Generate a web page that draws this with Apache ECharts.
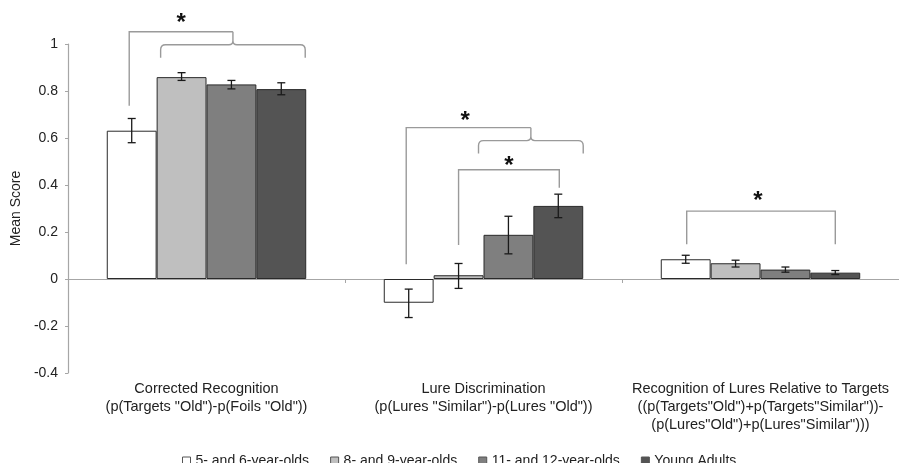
<!DOCTYPE html>
<html>
<head>
<meta charset="utf-8">
<script src="https://cdn.jsdelivr.net/npm/echarts@6/dist/echarts.min.js"></script>
<style>
html,body{margin:0;padding:0;background:#fff;}
#main{width:899px;height:463px;}
</style>
</head>
<body>
<div id="main"></div>
<script>
// ---- data ----
const categories = [
  'Corrected Recognition\n(p(Targets "Old")-p(Foils "Old"))',
  'Lure Discrimination\n(p(Lures "Similar")-p(Lures "Old"))',
  'Recognition of Lures Relative to Targets\n((p(Targets"Old")+p(Targets"Similar"))-\n(p(Lures"Old")+p(Lures"Similar")))'
];
const groupNames = ['5- and 6-year-olds', '8- and 9-year-olds', '11- and 12-year-olds', 'Young Adults'];
const yTicks = [-0.4, -0.2, 0, 0.2, 0.4, 0.6, 0.8, 1];

const age5to6   = [0.631, -0.101, 0.084];
const age8to9   = [0.859,  0.016, 0.067];
const age11to12 = [0.828,  0.188, 0.040];
const adults    = [0.808,  0.311, 0.027];

const age5to6Low    = [0.580, -0.164, 0.067];
const age5to6High   = [0.683, -0.043, 0.101];
const age8to9Low    = [0.845, -0.040, 0.051];
const age8to9High   = [0.878,  0.066, 0.080];
const age11to12Low  = [0.809,  0.107, 0.029];
const age11to12High = [0.845,  0.267, 0.051];
const adultsLow     = [0.784,  0.261, 0.019];
const adultsHigh    = [0.835,  0.361, 0.036];

// significance annotations (category, bar-slot offsets, y in data units)
const sigBrackets = [
  {cat: 0, from: -1.55, to: 0.53, top: 1.052, leftEnd: 0.737, rightEnd: 1.052},
  {cat: 1, from: -1.55, to: 0.95, top: 0.644, leftEnd: 0.063, rightEnd: 0.644},
  {cat: 1, from: -0.5,  to: 1.52, top: 0.465, leftEnd: 0.145, rightEnd: 0.388},
  {cat: 2, from: -1.48, to: 1.5,  top: 0.289, leftEnd: 0.148, rightEnd: 0.148}
];
const sigBraces = [
  {cat: 0, from: -0.92, to: 1.98, line: 0.997, ends: 0.942, peak: 1.052},
  {cat: 1, from: -0.1,  to: 2.0,  line: 0.589, ends: 0.534, peak: 0.644}
];
const sigStars = [
  {cat: 0, at: -0.51, y: 1.112},
  {cat: 1, at: -0.37, y: 0.695},
  {cat: 1, at: 0.51,  y: 0.506},
  {cat: 2, at: -0.05, y: 0.357}
];

// ---- chart ----
const values = [age5to6, age8to9, age11to12, adults];
const lows = [age5to6Low, age8to9Low, age11to12Low, adultsLow];
const highs = [age5to6High, age8to9High, age11to12High, adultsHigh];
const colors = ['#ffffff', '#bfbfbf', '#7f7f7f', '#545454'];
const GAP = 0.28;
const FONT = '"Liberation Sans", Arial, sans-serif';

const chart = echarts.init(document.getElementById('main'), null, {renderer: 'canvas'});

function slotX(api, cat, u) {
  const band = api.size([1, 0])[0];
  const bw = band * (1 - GAP) / 4;
  return api.coord([cat, 0])[0] + u * bw;
}

const barSeries = groupNames.map((name, i) => ({
  name: name,
  type: 'bar',
  xAxisIndex: 0,
  data: values[i],
  barGap: '0%',
  barCategoryGap: (GAP * 100) + '%',
  itemStyle: {color: colors[i], borderColor: '#2a2a2a', borderWidth: 1},
  emphasis: {disabled: true},
  z: 2
}));

const errData = [];
groupNames.forEach((n, s) => {
  categories.forEach((c, ci) => {
    errData.push([ci, lows[s][ci], highs[s][ci], s]);
  });
});

const errSeries = {
  type: 'custom',
  xAxisIndex: 0,
  data: errData,
  encode: {x: 0, y: [1, 2]},
  z: 5,
  silent: true,
  renderItem: function (params, api) {
    const c = api.value(0), s = api.value(3);
    const x = slotX(api, c, s - 1.5);
    const yl = api.coord([c, api.value(1)])[1];
    const yh = api.coord([c, api.value(2)])[1];
    const cap = 4;
    const st = {stroke: '#1a1a1a', lineWidth: 1.3};
    return {type: 'group', children: [
      {type: 'line', shape: {x1: x, y1: yl, x2: x, y2: yh}, style: st},
      {type: 'line', shape: {x1: x - cap, y1: yl, x2: x + cap, y2: yl}, style: st},
      {type: 'line', shape: {x1: x - cap, y1: yh, x2: x + cap, y2: yh}, style: st}
    ]};
  }
};

const annData = sigBrackets.map((b, i) => [b.cat, b.top, 'b', i])
  .concat(sigBraces.map((b, i) => [b.cat, b.line, 'r', i]))
  .concat(sigStars.map((b, i) => [b.cat, b.y, 's', i]));

const annSeries = {
  type: 'custom',
  xAxisIndex: 0,
  data: annData,
  encode: {x: 0, y: 1},
  clip: false,
  silent: true,
  z: 6,
  renderItem: function (params, api) {
    const item = annData[params.dataIndex];
    const kind = item[2], idx = item[3];
    const stroke = {stroke: '#9a9a9a', lineWidth: 1.4, fill: null};
    if (kind === 'b') {
      const b = sigBrackets[idx];
      const x1 = slotX(api, b.cat, b.from), x2 = slotX(api, b.cat, b.to);
      const yt = api.coord([b.cat, b.top])[1];
      const y1 = api.coord([b.cat, b.leftEnd])[1];
      const y2 = api.coord([b.cat, b.rightEnd])[1];
      return {type: 'polyline', shape: {points: [[x1, y1], [x1, yt], [x2, yt], [x2, y2]]}, style: stroke};
    }
    if (kind === 'r') {
      const b = sigBraces[idx];
      const x1 = slotX(api, b.cat, b.from), x2 = slotX(api, b.cat, b.to);
      const xm = (x1 + x2) / 2;
      const yb = api.coord([b.cat, b.line])[1];
      const ye = api.coord([b.cat, b.ends])[1];
      const yp = api.coord([b.cat, b.peak])[1];
      const r = 5, c = 4;
      const d = 'M' + x1 + ' ' + ye + ' L' + x1 + ' ' + (yb + r) +
        ' Q' + x1 + ' ' + yb + ' ' + (x1 + r) + ' ' + yb +
        ' L' + (xm - c) + ' ' + yb +
        ' Q' + xm + ' ' + yb + ' ' + xm + ' ' + (yb - c) +
        ' L' + xm + ' ' + yp +
        ' M' + xm + ' ' + (yb - c) +
        ' Q' + xm + ' ' + yb + ' ' + (xm + c) + ' ' + yb +
        ' L' + (x2 - r) + ' ' + yb +
        ' Q' + x2 + ' ' + yb + ' ' + x2 + ' ' + (yb + r) +
        ' L' + x2 + ' ' + ye;
      return {type: 'path', shape: {pathData: d}, style: stroke};
    }
    const s = sigStars[idx];
    const x = slotX(api, s.cat, s.at);
    const y = api.coord([s.cat, s.y])[1];
    return {type: 'text', x: x, y: y + 6, style: {
      text: '*', font: 'bold 24px ' + FONT, fill: '#111',
      align: 'center', verticalAlign: 'middle'
    }};
  }
};

const option = {
  backgroundColor: '#ffffff',
  animation: false,
  color: colors,
  grid: {left: 68, right: 0, top: 44, bottom: 90, containLabel: false},
  legend: {
    data: groupNames,
    left: 177,
    top: 449,
    itemWidth: 8,
    itemHeight: 8,
    itemGap: 21,
    icon: 'rect',
    itemStyle: {borderColor: '#555', borderWidth: 1},
    textStyle: {fontFamily: FONT, fontSize: 14, color: '#222'},
    selectedMode: false
  },
  xAxis: [
    {
      type: 'category',
      data: categories,
      position: 'bottom',
      axisLine: {show: true, onZero: true, lineStyle: {color: '#a6a6a6', width: 1.2}},
      axisTick: {show: true, length: 4, lineStyle: {color: '#a6a6a6'}},
      axisLabel: {show: false},
      splitLine: {show: false}
    },
    {
      type: 'category',
      data: categories,
      position: 'bottom',
      axisLine: {show: false, onZero: false},
      axisTick: {show: false},
      axisLabel: {show: true, interval: 0, margin: 7, fontFamily: FONT, fontSize: 14.5, color: '#222', lineHeight: 18},
      splitLine: {show: false}
    }
  ],
  yAxis: {
    type: 'value',
    min: yTicks[0],
    max: yTicks[yTicks.length - 1],
    interval: 0.2,
    name: 'Mean Score',
    nameLocation: 'middle',
    nameGap: 41,
    nameTextStyle: {fontFamily: FONT, fontSize: 14, color: '#222'},
    axisLine: {show: true, lineStyle: {color: '#a6a6a6', width: 1.2}},
    axisTick: {show: true, length: 3, lineStyle: {color: '#a6a6a6'}},
    axisLabel: {
      margin: 10, fontFamily: FONT, fontSize: 14, color: '#222',
      formatter: function (v) { return String(Math.round(v * 10) / 10); }
    },
    splitLine: {show: false}
  },
  series: barSeries.concat([errSeries, annSeries])
};

chart.setOption(option);
</script>
</body>
</html>
